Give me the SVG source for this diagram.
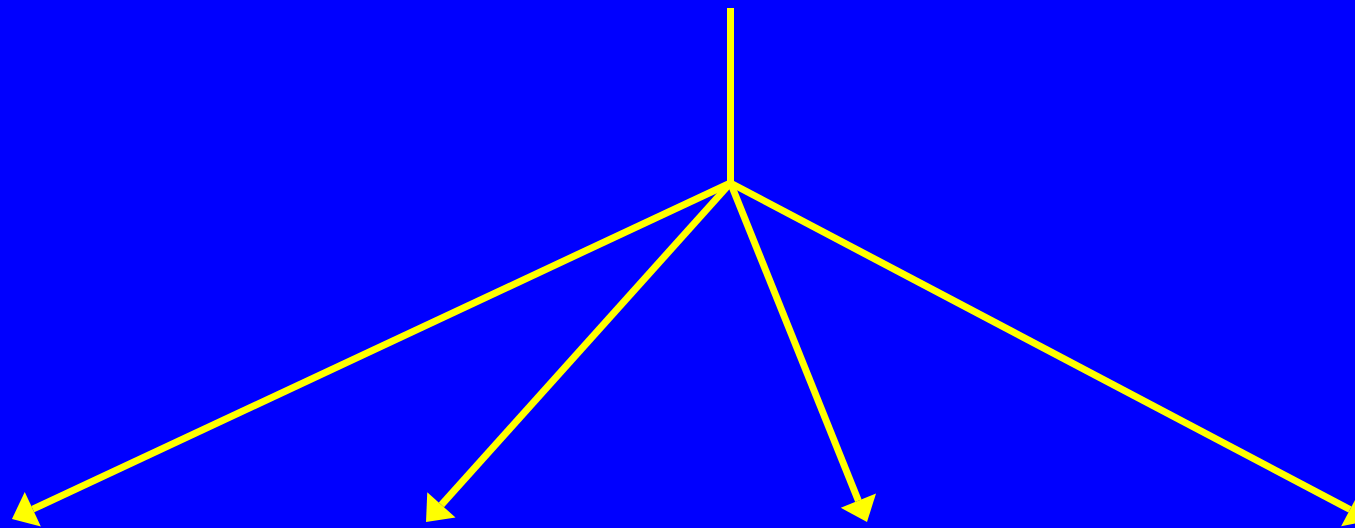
<svg xmlns="http://www.w3.org/2000/svg" width="1355" height="528" viewBox="0 0 1355 528">
  <style>
    .conn { stroke: #ffff00; stroke-width: 7; fill: none; }
  </style>
  <defs>
    <marker id="ah" markerUnits="userSpaceOnUse" markerWidth="30" markerHeight="44" viewBox="0 -22 30 44" refX="0" refY="0" orient="auto" overflow="visible">
      <path d="M0,-19 L23,0 L0,19 Z" fill="#ffff00"/>
    </marker>
  </defs>
  <rect x="0" y="0" width="1355" height="528" fill="#0000ff"/>
  <g id="connectors">
    <line class="conn" x1="730.5" y1="8" x2="730.5" y2="184"/>
    <line class="conn" x1="730.5" y1="183" x2="32.8" y2="509.2" marker-end="url(#ah)"/>
    <line class="conn" x1="730.5" y1="183" x2="441.4" y2="504.9" marker-end="url(#ah)"/>
    <line class="conn" x1="730.5" y1="183" x2="858.4" y2="500.7" marker-end="url(#ah)"/>
    <line class="conn" x1="730.5" y1="183" x2="1350" y2="509.5" marker-end="url(#ah)"/>
  </g>
</svg>
